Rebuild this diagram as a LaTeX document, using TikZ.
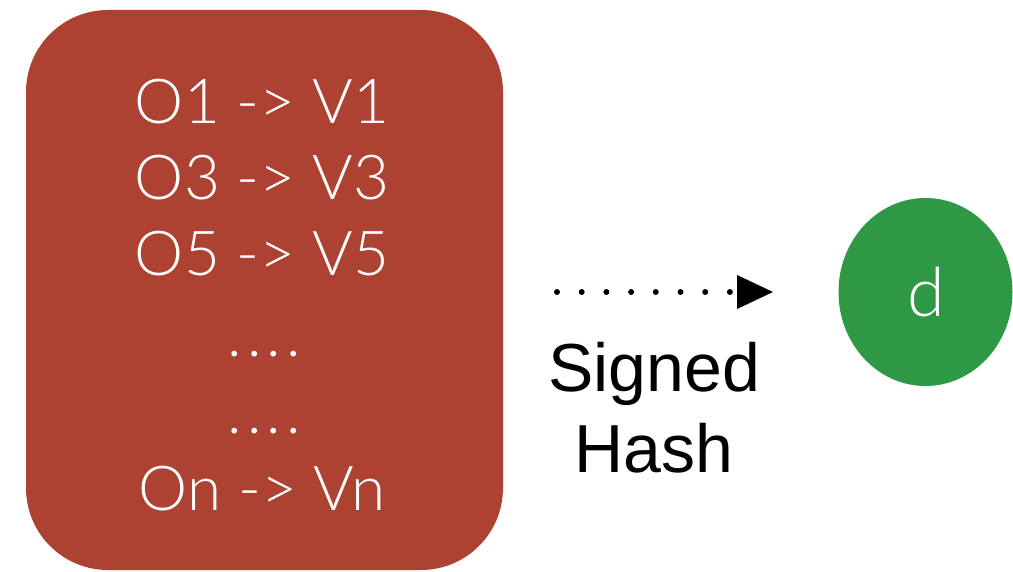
\documentclass[tikz,border=0pt]{standalone}
\usepackage{fontspec}
\setmainfont{Liberation Sans}
\newfontfamily\lightfont{Lato Light}
\usetikzlibrary{arrows.meta,shapes.geometric}
\definecolor{boxred}{RGB}{174,66,50}
\definecolor{leafgreen}{RGB}{46,152,68}
\tikzset{
  entry/.style={anchor=base, text=white, inner sep=0pt,
    font=\lightfont\fontsize{62}{77}\selectfont},
  caption/.style={anchor=base, text=black, inner sep=0pt,
    font=\fontsize{68}{80}\selectfont},
  flow/.style={line width=6pt, line cap=round, dash pattern=on 0pt off 24.7pt},
}
\newcommand{\gapdots}{.\kern5pt.\kern5pt.\kern5pt.}
\begin{document}
\begin{tikzpicture}[x=1pt,y=-1pt]
  \useasboundingbox (0,0) rectangle (1013,572);
  % table of object/version pairs
  \node[fill=boxred, rounded corners=82pt, minimum width=477pt,
        minimum height=560pt, inner sep=0pt] (table) at (264.5,290) {};
  \node[entry] (l1) at (262,124) {O1 -> V1};
  \node[entry] (l2) at (262,200) {O3 -> V3};
  \node[entry] (l3) at (262,276) {O5 -> V5};
  \node[entry] (l4) at (264,356) {\gapdots};
  \node[entry] (l5) at (264,433) {\gapdots};
  \node[entry] (l6) at (262,510) {On -> Vn};
  % digest
  \node[fill=leafgreen, ellipse, minimum width=174pt, minimum height=188pt,
        inner sep=0pt] (digest) at (925.5,292) {};
  \node[entry, font=\lightfont\fontsize{68}{80}\selectfont] (dlab) at (926,317) {d};
  % dotted arrow with its label
  \coordinate (from) at (557,292);
  \coordinate (to) at (737,292);
  \draw[flow] (from) -- (to);
  \fill (to) ++(0,-17) coordinate (ta) -- ++(36,17) coordinate (tb) -- ++(-36,17) coordinate (tc) -- cycle;
  \node[caption] (sig) at (654,391) {Signed};
  \node[caption] (hash) at (654,472) {Hash};
\end{tikzpicture}
\end{document}
